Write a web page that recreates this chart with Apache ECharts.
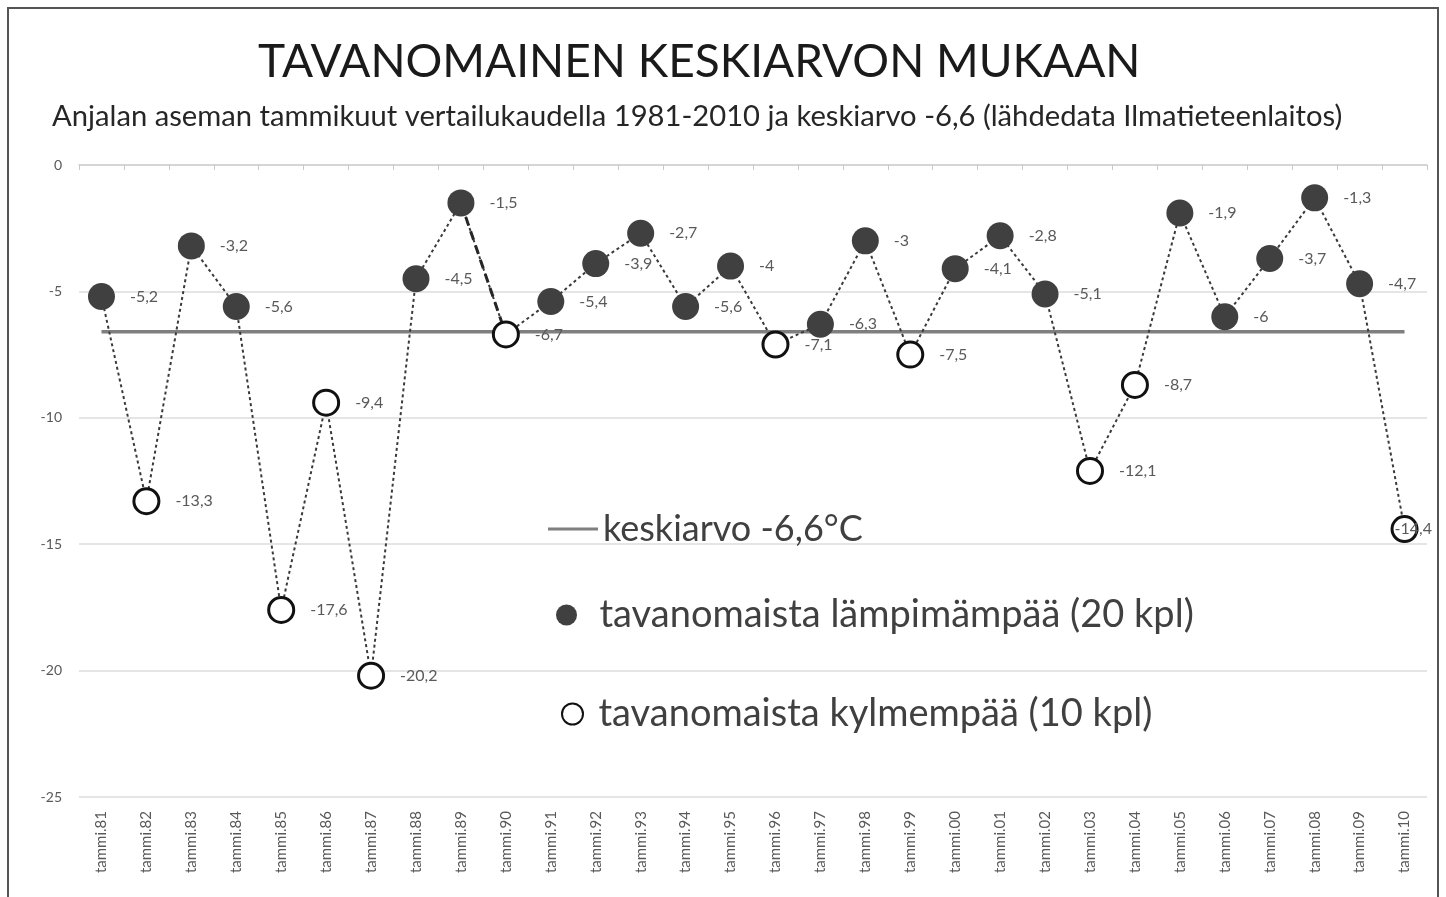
<!DOCTYPE html>
<html>
<head>
<meta charset="utf-8">
<script src="https://cdn.jsdelivr.net/npm/echarts@6/dist/echarts.min.js"></script>
<style>
  html, body { margin: 0; padding: 0; background: #fff; }
  #chart { width: 1446px; height: 897px; }
</style>
</head>
<body>
<div id="chart"></div>
<script>
// tammikuun keskilämpötilat, Anjala 1981-2010
const categories = ['tammi.81','tammi.82','tammi.83','tammi.84','tammi.85','tammi.86','tammi.87','tammi.88','tammi.89','tammi.90',
  'tammi.91','tammi.92','tammi.93','tammi.94','tammi.95','tammi.96','tammi.97','tammi.98','tammi.99','tammi.00',
  'tammi.01','tammi.02','tammi.03','tammi.04','tammi.05','tammi.06','tammi.07','tammi.08','tammi.09','tammi.10'];
const temps = [-5.2, -13.3, -3.2, -5.6, -17.6, -9.4, -20.2, -4.5, -1.5, -6.7,
  -5.4, -3.9, -2.7, -5.6, -4, -7.1, -6.3, -3, -7.5, -4.1,
  -2.8, -5.1, -12.1, -8.7, -1.9, -6, -3.7, -1.3, -4.7, -14.4];
const mean = -6.6;
const yTicks = [0, -5, -10, -15, -20, -25];

const font = "Lato, 'Open Sans', sans-serif";
const meanLine = categories.map(() => mean);
const last = temps.length - 1;
// viimeisen pisteen selite osuu ympyrän päälle kuten alkuperäisessä
const pt = (v, i) => i === last ? { value: v, label: { distance: -24 } } : v;
const warm = temps.map((v, i) => v > mean ? pt(v, i) : '-');
const cold = temps.map((v, i) => v <= mean ? pt(v, i) : '-');
// jakso 89 -> 90 on piirretty katkoviivana
const seg = temps.map((v, i) => (i === 8 || i === 9) ? v : '-');

const fmt = p => String(p.value).replace('.', ',');
const labelStyle = {
  show: true, position: 'right', distance: 15,
  fontFamily: font, fontSize: 16, color: '#595959', formatter: fmt
};
const legendText = { fontFamily: font, fontSize: 38, color: '#404040' };

const chart = echarts.init(document.getElementById('chart'));
chart.setOption({
  animation: false,
  backgroundColor: '#fff',
  title: [
    { text: 'TAVANOMAINEN KESKIARVON MUKAAN', left: 253, top: 34,
      textStyle: { fontFamily: font, fontSize: 46, fontWeight: 'normal', color: '#1a1a1a' } },
    { text: 'Anjalan aseman tammikuut vertailukaudella 1981-2010 ja keskiarvo -6,6 (lähdedata Ilmatieteenlaitos)',
      left: 47, top: 97,
      textStyle: { fontFamily: font, fontSize: 29.2, fontWeight: 'normal', color: '#262626' } }
  ],
  graphic: [
    { type: 'rect', shape: { x: 8, y: 8, width: 1430, height: 900 },
      style: { fill: null, stroke: '#555', lineWidth: 2 }, silent: true }
  ],
  grid: { left: 79, right: 19, top: 165, bottom: 100 },
  legend: [
    { data: [{ name: 'keskiarvo -6,6°C', icon: 'rect' }], left: 543, top: 506, itemWidth: 50, itemHeight: 3,
      itemGap: 0, textStyle: { fontFamily: font, fontSize: 36, color: '#404040' } },
    { data: ['tavanomaista lämpimämpää (20 kpl)'], left: 551, top: 591, itemWidth: 56, itemHeight: 21,
      textStyle: legendText },
    { data: ['tavanomaista kylmempää (10 kpl)'], left: 556, top: 690, itemWidth: 42, itemHeight: 21,
      textStyle: legendText }
  ],
  xAxis: [
    { type: 'category', data: categories, position: 'top', boundaryGap: true,
      axisLine: { lineStyle: { color: '#d0d0d0', width: 1.5 } },
      axisTick: { show: true, inside: true, length: 5, interval: 0, lineStyle: { color: '#c8c8c8' } },
      axisLabel: { show: false } },
    { type: 'category', data: categories, position: 'bottom', boundaryGap: true,
      axisLine: { show: false }, axisTick: { show: false },
      axisLabel: { interval: 0, rotate: 90, margin: 14, fontFamily: font, fontSize: 15, color: '#595959' } }
  ],
  yAxis: {
    type: 'value', min: yTicks[yTicks.length - 1], max: yTicks[0], interval: 5,
    axisLine: { show: false }, axisTick: { show: false },
    axisLabel: { margin: 17, fontFamily: font, fontSize: 14, color: '#595959' },
    splitLine: { lineStyle: { color: '#dcdcdc', width: 1.5 } }
  },
  series: [
    { name: 'keskiarvo -6,6°C', type: 'line', data: meanLine, symbol: 'none',
      lineStyle: { color: '#7f7f7f', width: 3.5 }, itemStyle: { color: '#7f7f7f' }, z: 1 },
    { name: 'yhdysviiva', type: 'line', data: temps, symbol: 'none',
      lineStyle: { color: '#3a3a3a', width: 2, type: [3, 3] }, z: 2 },
    { name: 'jakso', type: 'line', data: seg, symbol: 'none',
      lineStyle: { color: '#262626', width: 3, type: [9, 6] }, z: 3 },
    { name: 'tavanomaista lämpimämpää (20 kpl)', type: 'scatter', data: warm,
      symbol: 'circle', symbolSize: 27,
      itemStyle: { color: '#404040', opacity: 1 }, label: labelStyle, z: 5 },
    { name: 'tavanomaista kylmempää (10 kpl)', type: 'scatter', data: cold,
      symbol: 'circle', symbolSize: 25,
      itemStyle: { color: '#fff', borderColor: '#111', borderWidth: 3, opacity: 1 }, label: labelStyle, z: 5 }
  ]
});
</script>
</body>
</html>
